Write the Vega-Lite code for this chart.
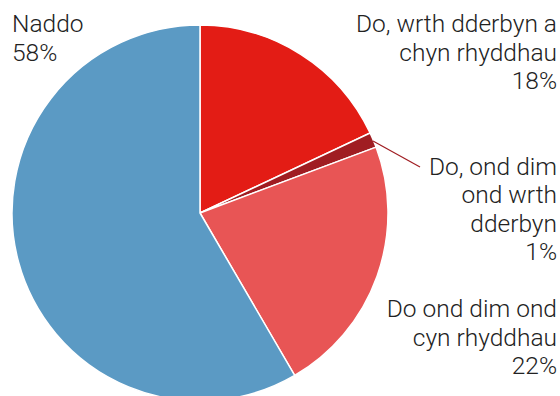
{
  "$schema": "https://vega.github.io/schema/vega-lite/v6.json",
  "width": 400,
  "height": 366,
  "autosize": {"type": "none"},
  "padding": {"left": 0, "top": 30, "right": 160, "bottom": 0},
  "config": {"view": {"stroke": null}},
  "data": {
    "values": [
      {"order": 1, "label": "Do, wrth dderbyn a\nchyn rhyddhau", "value": 18.0},
      {"order": 2, "label": "Do, ond dim\nond wrth\ndderbyn", "value": 1.3},
      {"order": 3, "label": "Do ond dim ond\ncyn rhyddhau", "value": 22.3},
      {"order": 4, "label": "Naddo", "value": 58.4}
    ]
  },
  "layer": [
    {
      "mark": {"type": "arc", "outerRadius": 188, "stroke": "#ffffff", "strokeWidth": 1.5},
      "encoding": {
        "theta": {"field": "value", "type": "quantitative", "stack": true},
        "order": {"field": "order", "type": "quantitative", "sort": "ascending"},
        "color": {
          "field": "label",
          "type": "nominal",
          "legend": null,
          "scale": {
            "domain": ["Do, wrth dderbyn a\nchyn rhyddhau", "Do, ond dim\nond wrth\ndderbyn", "Do ond dim ond\ncyn rhyddhau", "Naddo"],
            "range": ["#e31c15", "#a01d22", "#e85555", "#5b9ac4"]
          }
        }
      }
    },
    {
      "transform": [
        {"filter": "datum.order == 2"}
      ],
      "mark": {"type": "rule", "color": "#a01d22", "strokeWidth": 1.2},
      "encoding": {
        "x": {"value": 373},
        "y": {"value": 111},
        "x2": {"value": 420},
        "y2": {"value": 137}
      }
    },
    {
      "transform": [
        {"calculate": "datum.label + '\\n' + format(datum.value, '.0f') + '%'", "as": "txt"}
      ],
      "mark": {
        "type": "text",
        "font": "Roboto",
        "fontWeight": 300,
        "fontSize": 24.5,
        "lineHeight": 28.5,
        "lineBreak": "\n",
        "baseline": "alphabetic",
        "color": "#222222",
        "align": {"expr": "datum.order == 4 ? 'left' : 'right'"}
      },
      "encoding": {
        "text": {"field": "txt", "type": "nominal"},
        "x": {"field": "order", "type": "quantitative", "axis": null, "scale": {"domain": [3, 4], "range": [557, 12], "clamp": true}},
        "y": {"field": "order", "type": "quantitative", "axis": null, "scale": {"domain": [1, 3, 4], "range": [2, 287, 2], "zero": false, "nice": false}}
      }
    }
  ]
}
